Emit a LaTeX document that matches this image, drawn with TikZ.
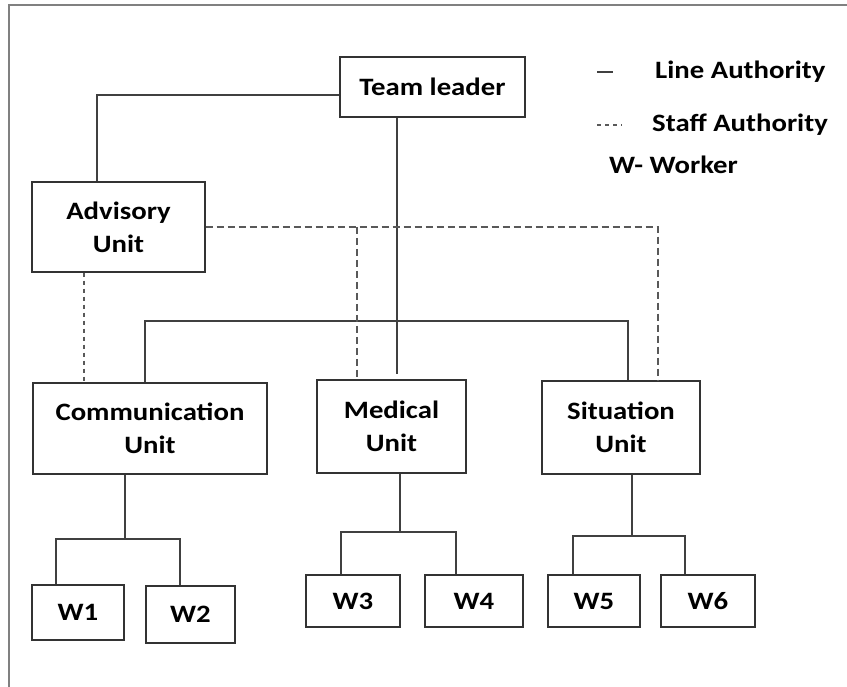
\documentclass[tikz,border=0pt]{standalone}
\usepackage{fontspec}
\setmainfont{Carlito}[FakeStretch=1.15]
\begin{document}
\begin{tikzpicture}[x=1pt,y=-1pt,
    unitbox/.style={draw=black!80,line width=1.4pt,align=center,inner sep=0pt,
        font=\bfseries\fontsize{25}{33}\selectfont},
    lineauth/.style={draw=black!75,line width=1.4pt},
    staffauth/.style={draw=black!65,line width=1.5pt,dash pattern=on 7pt off 4pt},
    legend/.style={anchor=west,inner sep=0pt,font=\bfseries\fontsize{25}{28}\selectfont}]
		\useasboundingbox (0,0) rectangle (847,687);
		\draw[black!50,line width=2pt] (847,5) -- (9,5) -- (9,687);

    			\node[unitbox,minimum width=185pt,minimum height=60pt] (lead) at (432.5,87) {Team leader};
    			\node[unitbox,minimum width=173pt,minimum height=90pt] (adv)  at (118.5,227) {Advisory\\Unit};
    			\node[unitbox,minimum width=234pt,minimum height=91pt] (comm) at (150,428.5) {Communication\\Unit};
    			\node[unitbox,minimum width=149pt,minimum height=93pt] (med)  at (391.5,426.5) {Medical\\Unit};
    			\node[unitbox,minimum width=158pt,minimum height=93pt] (sit)  at (621,427.5) {Situation\\Unit};

			\node[unitbox,minimum width=92pt,minimum height=55pt] (w1) at (78,612.5)  {W1};
			\node[unitbox,minimum width=89pt,minimum height=57pt] (w2) at (190.5,614.5) {W2};
			\node[unitbox,minimum width=94pt,minimum height=52pt] (w3) at (353,601)   {W3};
			\node[unitbox,minimum width=98pt,minimum height=52pt] (w4) at (474,601)   {W4};
			\node[unitbox,minimum width=92pt,minimum height=52pt] (w5) at (594,601)   {W5};
			\node[unitbox,minimum width=94pt,minimum height=52pt] (w6) at (708,601)   {W6};

			% legend
			\draw[lineauth] (597,72) -- (613,72);
			\draw[staffauth,dash pattern=on 4pt off 4pt] (597,125) -- (622,125);
			\node[legend] (keyline)  at (655,72)  {Line Authority};
			\node[legend] (keystaff) at (652,125) {Staff Authority};
			\node[legend] (keyw)     at (609,165) {W- Worker};

			\coordinate (bar) at (397,321);
			\coordinate (stf) at (357,227);
			\coordinate (f1)  at (125,539);
			\coordinate (f2)  at (400,532);
			\coordinate (f3)  at (632,536);

  		\draw[lineauth] ([yshift=-8pt]lead.west) -| ([xshift=-21.5pt]adv.north);
  		\draw[lineauth] (lead.south -| bar) -- ([yshift=5pt]med.north -| bar);
  		\draw[lineauth] ([xshift=-5pt]comm.north) |- (bar) -| ([xshift=7pt]sit.north);
  		\draw[staffauth] (adv.east) -| ([xshift=37pt]sit.north);
  		\draw[staffauth] (stf) -- (med.north -| stf);
  		\draw[staffauth,dash pattern=on 4pt off 4pt] ([xshift=-34.5pt]adv.south) -- ([xshift=-34.5pt]adv.south |- comm.north);

  		\draw[lineauth] (comm.south -| f1) -- (f1);
  		\draw[lineauth] ([xshift=-22pt]w1.north) |- (f1) -| ([xshift=-10.5pt]w2.north);
  		\draw[lineauth] (med.south -| f2) -- (f2);
  		\draw[lineauth] ([xshift=-12pt]w3.north) |- (f2) -| ([xshift=-18pt]w4.north);
  		\draw[lineauth] (sit.south -| f3) -- (f3);
  		\draw[lineauth] ([xshift=-21pt]w5.north) |- (f3) -| ([xshift=-23pt]w6.north);

		\end{tikzpicture}
\end{document}
